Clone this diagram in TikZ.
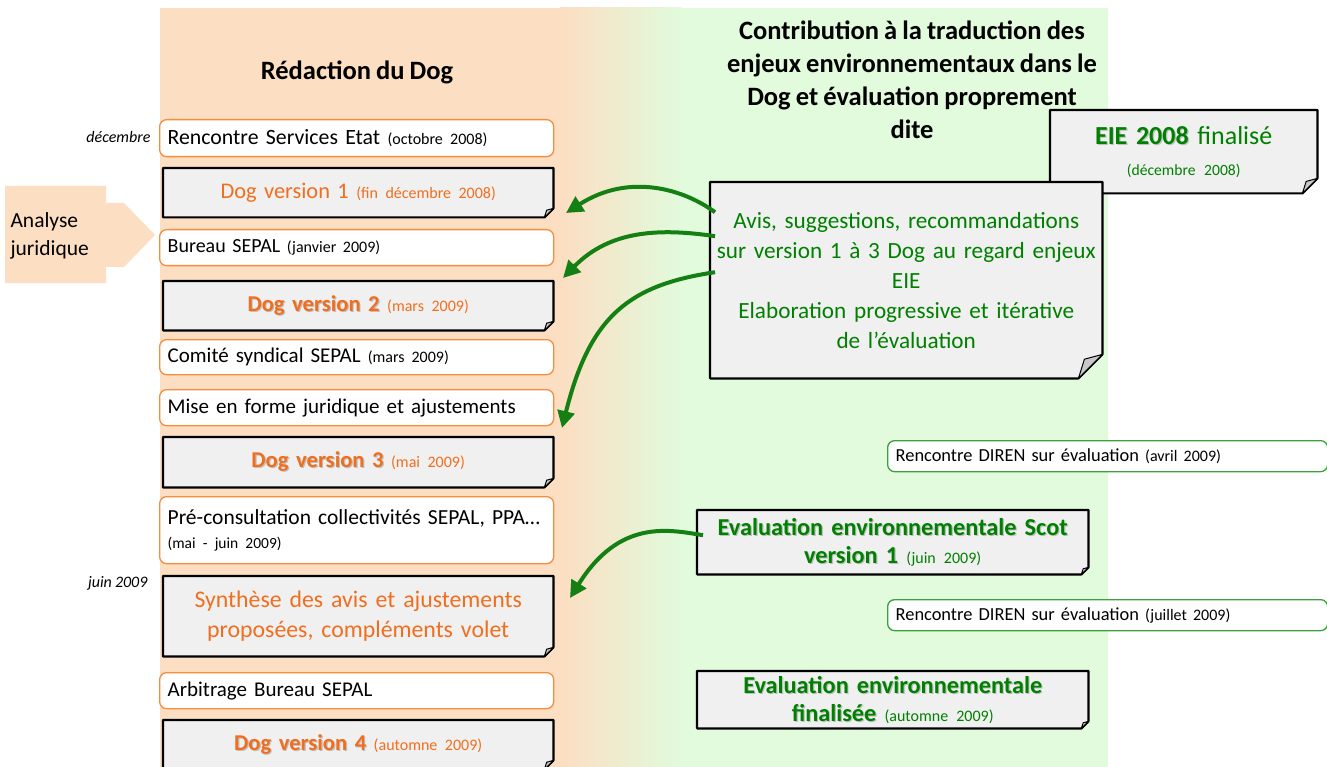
\documentclass[tikz,border=0pt]{standalone}
\usepackage{fontspec}
\setmainfont{Carlito}[WordSpace=0.85]
\usetikzlibrary{arrows.meta}
\definecolor{peach}{RGB}{252,222,194}
\definecolor{mint}{RGB}{225,251,220}
\definecolor{otext}{RGB}{240,110,30}
\definecolor{oborder}{RGB}{247,140,60}
\definecolor{gtext}{RGB}{0,128,0}
\definecolor{garr}{RGB}{20,128,20}
\definecolor{gborder}{RGB}{60,160,60}
\definecolor{boxgray}{RGB}{240,240,240}
\definecolor{foldgray}{RGB}{200,200,200}
\pgfdeclarelayer{back}\pgfdeclarelayer{mid}\pgfsetlayers{back,mid,main}
\newcommand\fz[2]{\fontsize{#1}{#2}\selectfont}
\newcommand\shd[1]{\leavevmode\rlap{\kern1.2pt\raisebox{-1.2pt}{\color{black!25}#1}}{#1}}
\newcommand\foldshape[2]{%
  \begin{pgfonlayer}{mid}
  \draw[fill=boxgray, line width=2.2pt, line join=round]
    (#1.north west) -- (#1.north east) -- ([yshift=#2pt]#1.south east)
    -- ([xshift=-#2pt]#1.south east) -- (#1.south west) -- cycle;
  \draw[fill=foldgray, line width=1pt, line join=round]
    ([yshift=#2pt]#1.south east) -- ([xshift=-0.75*#2pt,yshift=0.8*#2pt]#1.south east)
    -- ([xshift=-#2pt]#1.south east) -- cycle;
  \end{pgfonlayer}}
\begin{document}
\begin{tikzpicture}[x=1pt,y=-1pt,
  rbox/.style={draw=oborder, line width=1.3pt, rounded corners=7pt, fill=white,
    anchor=north west, minimum height=37pt, text width=378pt, align=left,
    inner xsep=8pt, inner ysep=2pt, font=\fz{21}{24}},
  gbox/.style={rbox, draw=gborder, text width=424pt, minimum height=31pt, font=\fz{18.4}{21}},
  fbox/.style={anchor=north west, minimum height=49pt, text width=370pt,
    inner xsep=10pt, align=center, text=otext},
  hdr/.style={align=center, font=\fz{26.5}{33}\bfseries},
  side/.style={anchor=east, font=\fz{16}{18}\itshape},
  garrow/.style={draw=garr, line width=4pt, -{Triangle[length=17pt,width=17pt]}}]
\useasboundingbox (0,0) rectangle (1327,767);
\begin{pgfonlayer}{back}
\fill[white] (0,0) rectangle (1327,767);
\fill[peach] (160,8) rectangle (561,767);
\shade[left color=peach,right color=mint] (560,8) rectangle (681,767);
\fill[mint] (680,8) rectangle (1108,767);
\end{pgfonlayer}

% Analyse juridique arrow shape
\fill[peach] (5,186) -- (106,186) -- (106,203) -- (124,203) -- (155,235)
  -- (124,267) -- (106,267) -- (106,283) -- (5,283) -- cycle;
\node[anchor=west, align=left, font=\fz{21.5}{28}] (anal) at (7,236) {Analyse\\juridique};

% headers
\node[hdr] (hdrL) at (357,72) {Rédaction du Dog};
\node[hdr] (hdrR) at (912,80) {Contribution à la traduction des\\enjeux environnementaux dans le\\Dog et évaluation proprement\\dite};

% side labels
\node[side] (dec) at (154,137) {décembre};
\node[side] (juin) at (151,583) {juin 2009};

% left column
\node[rbox, font=\fz{21.8}{24}] (l1) at (159,119) {Rencontre Services Etat {\fz{16}{18}(octobre 2008)}};
\node[fbox, font=\fz{22.4}{24}] (l2) at (163,168) {Dog version 1 {\fz{16}{18}(fin décembre 2008)}};
\foldshape{l2}{9}
\node[rbox, minimum height=36pt, font=\fz{20}{22}] (l3) at (159,229) {Bureau SEPAL {\fz{16}{18}(janvier 2009)}};
\node[fbox, font=\fz{22.6}{24}] (l4) at (163,281) {\shd{\bfseries Dog version 2} {\fz{16}{18}(mars 2009)}};
\foldshape{l4}{9}
\node[rbox, minimum height=35pt] (l5) at (159,339) {Comité syndical SEPAL {\fz{16}{18}(mars 2009)}};
\node[rbox, minimum height=36pt] (l6) at (159,389) {Mise en forme juridique et ajustements};
\node[fbox, minimum height=50pt, font=\fz{22.6}{24}] (l7) at (163,437) {\shd{\bfseries Dog version 3} {\fz{16}{18}(mai 2009)}};
\foldshape{l7}{9}
\node[rbox, minimum height=67pt, font=\fz{21.5}{24}] (l8) at (159,496) {Pré-consultation collectivités SEPAL, PPA…\\{\fz{15.5}{18}(mai - juin 2009)}};
\node[fbox, minimum height=80pt, font=\fz{23.8}{30}] (l9) at (163,576) {Synthèse des avis et ajustements\\proposées, compléments volet};
\foldshape{l9}{9}
\node[rbox, minimum height=36pt] (l10) at (159,672) {Arbitrage Bureau SEPAL};
\node[fbox, font=\fz{22.6}{24}] (l11) at (163,720) {\shd{\bfseries Dog version 4} {\fz{16}{18}(automne 2009)}};
\foldshape{l11}{9}

% right column
\node[fbox, text width=247pt, minimum height=83pt, text=gtext, font=\fz{26}{31}] (r1) at (1050,110)
  {\shd{\bfseries EIE 2008} finalisé\\{\fz{15.6}{16}(décembre 2008)}};
\foldshape{r1}{15}
\node[fbox, text width=380pt, inner xsep=6pt, minimum height=196pt, text=gtext, font=\fz{23.2}{30}] (r2) at (710,182)
  {Avis, suggestions, recommandations\\sur version 1 à 3 Dog au regard enjeux\\EIE\\ Elaboration progressive et itérative\\de l’évaluation};
\foldshape{r2}{24}
\node[gbox] (r3) at (887,440) {Rencontre DIREN sur évaluation {\fz{16}{18}(avril 2009)}};
\node[fbox, text width=371pt, minimum height=64pt, text=gtext, font=\fz{24.3}{28}] (r4) at (697,510)
  {\shd{\bfseries Evaluation environnementale Scot}\\\shd{\bfseries version 1} {\fz{16}{18}(juin 2009)}};
\foldshape{r4}{7}
\node[gbox] (r5) at (887,599) {Rencontre DIREN sur évaluation {\fz{16}{18}(juillet 2009)}};
\node[fbox, text width=371pt, minimum height=57pt, text=gtext, font=\fz{24.3}{28}] (r6) at (697,671)
  {\shd{\bfseries Evaluation environnementale}\\\shd{\bfseries finalisée} {\fz{16}{18}(automne 2009)}};
\foldshape{r6}{7}

% arrows
\coordinate (t1) at (566,213);
\coordinate (t2) at (563,278);
\coordinate (t3) at (562,428);
\coordinate (t4) at (570,598);
\draw[garrow] ([xshift=5pt,yshift=68pt]r2.west) .. controls (685,190) and (630,172) .. (t1);
\draw[garrow] ([xshift=5pt,yshift=44pt]r2.west) .. controls (660,228) and (610,230) .. (t2);
\draw[garrow] ([xshift=5pt,yshift=8pt]r2.west) .. controls (630,285) and (590,315) .. (t3);
\draw[garrow] ([xshift=6pt,yshift=7pt]r4.west) .. controls (670,530) and (620,518) .. (t4);
\end{tikzpicture}
\end{document}
